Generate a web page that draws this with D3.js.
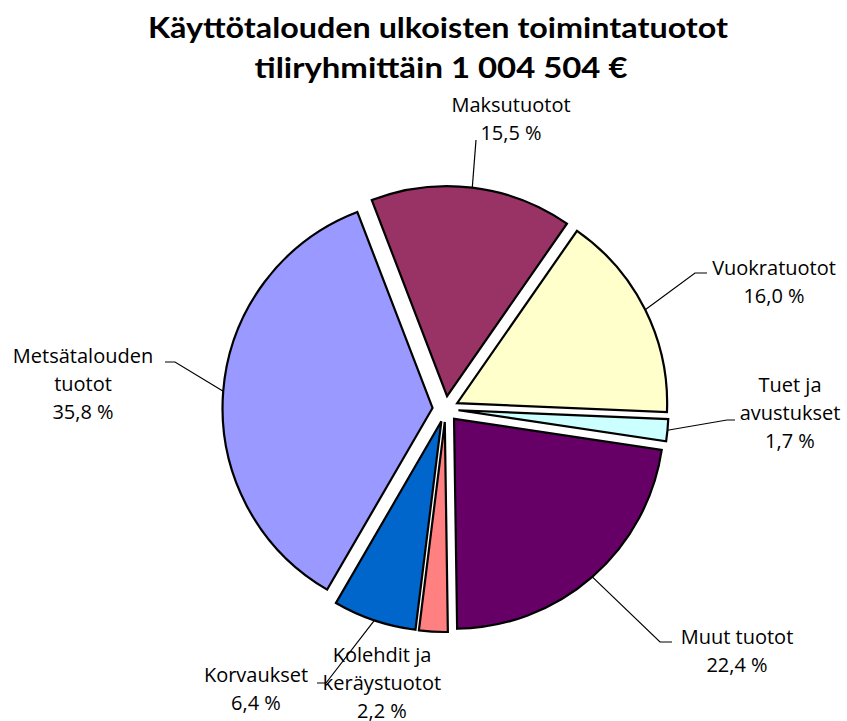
<!DOCTYPE html>
<html lang="fi">
<head>
<meta charset="UTF-8">
<script src="https://cdn.jsdelivr.net/npm/d3@7/dist/d3.min.js"></script>
<title>Käyttötalouden ulkoisten toimintatuotot</title>
<style>
    body { margin: 0; background: #fff; }
    text { fill: #000; }
</style>
</head>
<body>
<script>
    // tiliryhmät ja osuudet (%)
    const categories = ["Maksutuotot", "Vuokratuotot", "Tuet ja avustukset", "Muut tuotot",
        "Kolehdit ja keräystuotot", "Korvaukset", "Metsätalouden tuotot"];
    const shares = [15.5, 16.0, 1.7, 22.4, 2.2, 6.4, 35.8];
    const labelLines = [["Maksutuotot"], ["Vuokratuotot"], ["Tuet ja", "avustukset"], ["Muut tuotot"],
        ["Kolehdit ja", "keräystuotot"], ["Korvaukset"], ["Metsätalouden", "tuotot"]];
    const colors = ["#993366", "#FFFFCC", "#CCFFFF", "#660066", "#FF8080", "#0066CC", "#9999FF"];
    const titleLines = ["Käyttötalouden ulkoisten toimintatuotot", "tiliryhmittäin 1 004 504 €"];

    const width = 847, height = 721;
    const cx = 445.5, cy = 409;
    const radius = 210;
    const explode = 13;

    // selitteiden paikat: keskikohta x, ensimmäisen rivin perusviiva y, viivan taite
    const labelPos = [
        {x: 511, y: 112, elbow: [476, 140], end: [476, 140]},
        {x: 774, y: 275, elbow: [695, 273], end: [707, 273]},
        {x: 790, y: 392, elbow: [727, 420], end: [735, 420]},
        {x: 737, y: 644, elbow: [660, 642], end: [672, 642]},
        {x: 382, y: 662, elbow: null},
        {x: 256, y: 682, elbow: [326, 683], end: [317, 683]},
        {x: 83, y: 363, elbow: [175, 362], end: [165, 362]}
    ];
    const titleWidths = [580, 373];

    const svg = d3.select("body").append("svg")
        .attr("width", width)
        .attr("height", height);

    // otsikko
    svg.append("g").selectAll("text")
        .data(titleLines)
        .enter().append("text")
        .attr("x", (d, i) => i === 0 ? 438 : 441)
        .attr("y", (d, i) => 38 + i * 40)
        .attr("text-anchor", "middle")
        .attr("textLength", (d, i) => titleWidths[i])
        .attr("lengthAdjust", "spacingAndGlyphs")
        .style("font-family", "Lato, sans-serif")
        .style("font-size", "28px")
        .style("font-weight", "bold")
        .text(d => d);

    const pie = d3.pie().sort(null)
        .startAngle(-21 * Math.PI / 180)
        .endAngle(339 * Math.PI / 180);
    const arc = d3.arc().innerRadius(0).outerRadius(radius);
    const piedata = pie(shares);

    const mid = d => (d.startAngle + d.endAngle) / 2;
    const offset = d => [explode * Math.sin(mid(d)), -explode * Math.cos(mid(d))];

    const g = svg.append("g").attr("transform", "translate(" + cx + "," + cy + ")");

    g.selectAll("path")
        .data(piedata)
        .enter().append("path")
        .attr("transform", d => "translate(" + offset(d) + ")")
        .attr("d", arc)
        .attr("fill", (d, i) => colors[i])
        .attr("stroke", "#000")
        .attr("stroke-width", 2.2)
        .attr("stroke-linejoin", "miter");

    // viittausviivat
    piedata.forEach((d, i) => {
        const p = labelPos[i];
        if (!p.elbow) return;
        const o = offset(d);
        const sx = cx + o[0] + radius * Math.sin(mid(d));
        const sy = cy + o[1] - radius * Math.cos(mid(d));
        svg.append("path")
            .attr("d", d3.line()([[sx, sy], p.elbow, p.end]))
            .attr("fill", "none")
            .attr("stroke", "#000")
            .attr("stroke-width", 1.2);
    });

    // selitteet
    piedata.forEach((d, i) => {
        const p = labelPos[i];
        const lines = labelLines[i].concat([d3.format(".1f")(shares[i]).replace(".", ",") + " %"]);
        svg.append("g").selectAll("text")
            .data(lines)
            .enter().append("text")
            .attr("x", p.x)
            .attr("y", (t, j) => p.y + j * 28)
            .attr("text-anchor", "middle")
            .style("font-family", "'Open Sans', sans-serif")
            .style("font-size", "20px")
            .text(t => t);
    });
</script>
</body>
</html>
